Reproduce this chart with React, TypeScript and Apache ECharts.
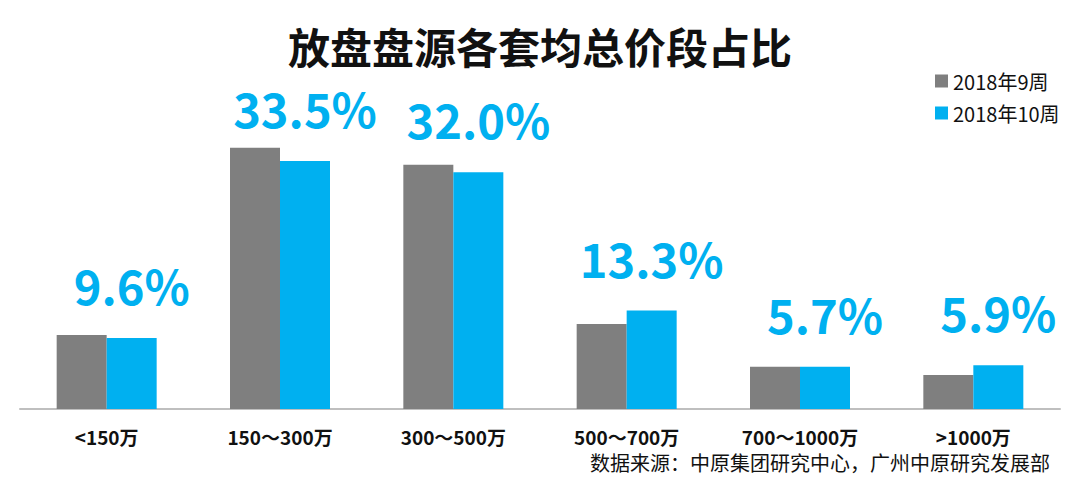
import React, { useEffect, useRef } from "react";
import * as echarts from "echarts";

const categories = ["<150万", "150～300万", "300～500万", "500～700万", "700～1000万", ">1000万"];
const week9 = [10.0, 35.3, 33.0, 11.5, 5.7, 4.6];
const week10 = [9.6, 33.5, 32.0, 13.3, 5.7, 5.9];
const seriesNames = ["2018年9周", "2018年10周"];

const FONT = "'Noto Sans CJK SC', 'Noto Sans', sans-serif";

export default function App() {
  const ref = useRef<HTMLDivElement>(null);
  useEffect(() => {
    if (!ref.current) return;
    const chart = echarts.init(ref.current, undefined, { renderer: "svg" });
    chart.setOption({
      animation: false,
      backgroundColor: "#ffffff",
      textStyle: { fontFamily: FONT },
      title: {
        text: "放盘盘源各套均总价段占比",
        left: "center",
        top: 19,
        textStyle: { fontSize: 42, fontWeight: "bold", color: "#111", fontFamily: FONT },
      },
      legend: {
        orient: "vertical",
        left: 930,
        top: 66,
        itemWidth: 13,
        itemHeight: 13,
        itemGap: 12,
        itemStyle: { borderWidth: 0 },
        icon: "rect",
        textStyle: { fontSize: 20, color: "#111", fontFamily: FONT },
        data: seriesNames,
      },
      graphic: [
        {
          type: "text",
          right: 30,
          top: 452,
          style: {
            text: "数据来源：中原集团研究中心，广州中原研究发展部",
            fontSize: 20,
            fill: "#111",
            fontFamily: FONT,
          },
        },
      ],
      grid: { left: 20, right: 20, top: 113, bottom: 75 },
      xAxis: {
        type: "category",
        data: categories,
        axisTick: { show: false },
        axisLine: { lineStyle: { color: "#bfbfbf", width: 2 } },
        axisLabel: { fontSize: 19, fontWeight: "bold", color: "#111", margin: 18, fontFamily: FONT },
      },
      yAxis: {
        type: "value",
        min: 0,
        max: 40,
        show: false,
        splitLine: { show: false },
      },
      series: [
        {
          name: seriesNames[0],
          type: "bar",
          data: week9,
          barWidth: 50,
          barGap: "0%",
          itemStyle: { color: "#7f7f7f" },
        },
        {
          name: seriesNames[1],
          type: "bar",
          data: week10,
          barWidth: 50,
          barGap: "0%",
          itemStyle: { color: "#00b0f0" },
          label: {
            show: true,
            position: "top",
            distance: 30,
            formatter: (p: any) => p.value.toFixed(1) + "%",
            fontSize: 47,
            fontWeight: "bold",
            color: "#00b0f0",
            fontFamily: FONT,
          },
        },
      ],
    });
    return () => chart.dispose();
  }, []);
  return (
    <div
      ref={ref}
      style={{ position: "fixed", left: 0, top: 0, width: 1080, height: 484 }}
    />
  );
}
